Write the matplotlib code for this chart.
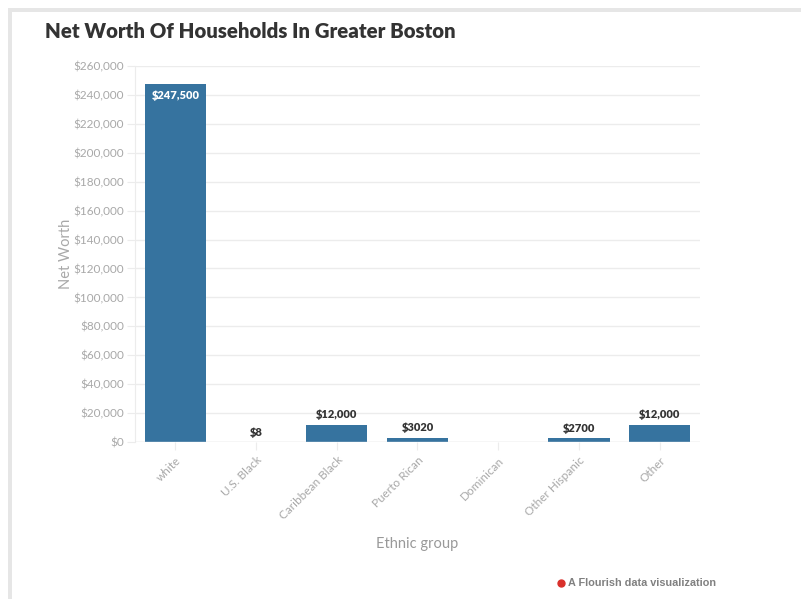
import numpy as np
import matplotlib.pyplot as plt
from matplotlib.patches import Rectangle
from matplotlib.lines import Line2D

groups = ['white', 'U.S. Black', 'Caribbean Black', 'Puerto Rican',
          'Dominican', 'Other Hispanic', 'Other']
net_worth = [247500, 8, 12000, 3020, 0, 2700, 12000]
value_labels = ['$247,500', '$8', '$12,000', '$3020', '', '$2700', '$12,000']
y_ticks = list(range(0, 260001, 20000))

BAR = '#36739f'
GRID = '#ececec'
TICK_TXT = '#a8a8a8'
W, H = 801, 599

plt.rcParams['font.family'] = ['Lato', 'DejaVu Sans']

fig = plt.figure(figsize=(W / 100, H / 100), dpi=100)
fig.patch.set_facecolor('white')

# light grey frame along the top and left edges
fig.add_artist(Rectangle((8 / W, 1 - 12 / H), 1, 4 / H, transform=fig.transFigure,
                         color='#e6e6e6', lw=0))
fig.add_artist(Rectangle((8 / W, 0), 4 / W, 1 - 8 / H, transform=fig.transFigure,
                         color='#e6e6e6', lw=0))

ax = fig.add_axes([135 / W, 1 - 442 / H, 565 / W, 376 / H])
x = np.arange(len(groups))
ax.bar(x, net_worth, width=0.76, color=BAR, zorder=3)

ax.set_xlim(-0.5, len(groups) - 0.5)
ax.set_ylim(0, 260000)
ax.set_yticks(y_ticks)
ax.set_yticklabels([f'${v:,}' for v in y_ticks])
ax.set_xticks(x)
ax.set_xticklabels(groups, rotation=45, ha='right', rotation_mode='anchor')
ax.grid(axis='y', color=GRID, lw=1, zorder=0)
for s in ['top', 'right', 'bottom']:
    ax.spines[s].set_visible(False)
ax.spines['left'].set_color(GRID)
ax.axhline(0, color='#e2e2e2', lw=1, zorder=4)
ax.tick_params(axis='y', colors=GRID, labelcolor=TICK_TXT, labelsize=8.5,
               length=6, pad=2)
ax.tick_params(axis='x', colors=GRID, labelcolor=TICK_TXT, labelsize=8.5,
               length=6, pad=3)

ax.set_ylabel('Net Worth', color=TICK_TXT, fontsize=10.5, labelpad=0)
ax.set_xlabel('Ethnic group', color='#999999', fontsize=10.5, labelpad=11)

for xi, v, lab in zip(x, net_worth, value_labels):
    if not lab:
        continue
    if v > 100000:
        ax.annotate(lab, (xi, v), xytext=(0, -4), textcoords='offset points',
                    ha='center', va='top', color='white', fontsize=8,
                    fontweight='heavy', zorder=5)
    else:
        ax.annotate(lab, (xi, v), xytext=(0, 3), textcoords='offset points',
                    ha='center', va='bottom', color='#333333', fontsize=8,
                    fontweight='heavy', zorder=5)

fig.text(45 / W, 1 - 32 / H, 'Net Worth Of Households In Greater Boston',
         fontsize=14.7, fontweight='heavy', color='#333333', va='center')

# Flourish credit
fig.add_artist(Line2D([561 / W], [1 - 583 / H], transform=fig.transFigure,
                      marker='o', markersize=5, color='#d9302b', lw=0))
fig.text(568 / W, 1 - 583 / H, 'A Flourish data visualization',
         family=['Liberation Sans', 'DejaVu Sans'], fontsize=7.8,
         fontweight='bold', color='#808080', va='center')

fig.savefig('out.png', dpi=100)
